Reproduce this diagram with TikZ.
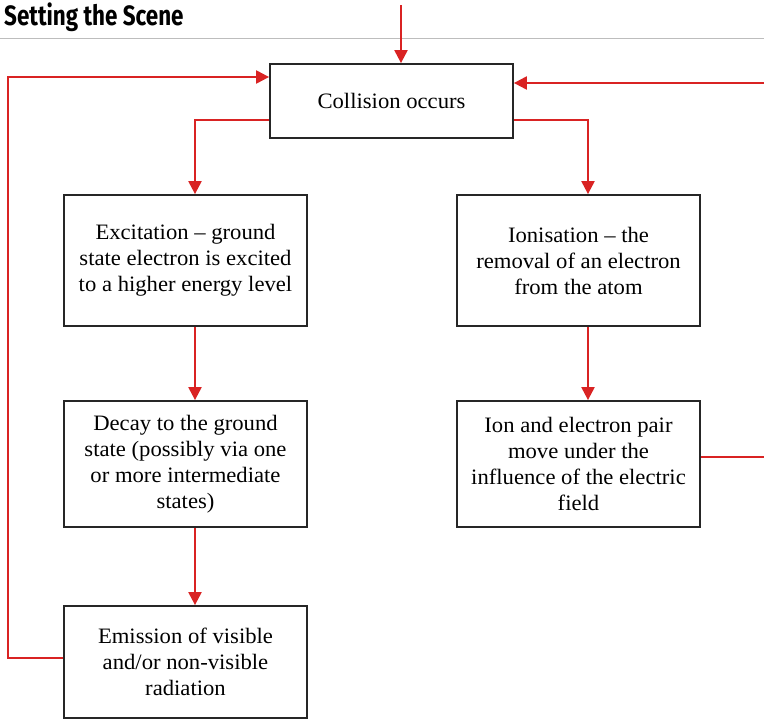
\documentclass[tikz,border=0pt]{standalone}
\usepackage{fontspec}
\setmainfont{Liberation Serif}[FakeStretch=1.03]
\newfontfamily\headfont[FakeStretch=0.80]{Fira Sans Bold}
\usetikzlibrary{arrows.meta}
\definecolor{flowred}{HTML}{D92323}
\definecolor{rulegray}{HTML}{BDBDBD}
\tikzset{
  stage/.style={draw=black!85, line width=1.8pt, minimum width=243pt, align=center,
    font=\fontsize{22}{26}\selectfont, inner sep=0pt},
  flow/.style={draw=flowred, line width=2.2pt,
    -{Triangle[length=13pt,width=13pt]}},
  flowline/.style={draw=flowred, line width=2.2pt},
}
\begin{document}
\begin{tikzpicture}[x=1pt,y=-1pt]
\useasboundingbox (0,0) rectangle (764,720);
% heading and rule
\node[anchor=base west, inner sep=0pt, font=\headfont\fontsize{28}{30}\selectfont] (head) at (4,26) {Setting the Scene};
\draw[rulegray, line width=1pt] (0,38) -- (764,38);
% stages
\node[stage, minimum height=74pt] (coll) at (391.5,101) {Collision occurs};
\node[stage, minimum height=131pt] (exc) at (185.5,260.5) {Excitation -- ground\\state electron is excited\\to a higher energy level};
\node[stage, minimum height=131pt] (ion) at (578.5,260.5) {Ionisation -- the\\removal of an electron\\from the atom};
\node[stage, minimum height=126pt] (dec) at (185.5,464) {Decay to the ground\\state (possibly via one\\or more intermediate\\states)};
\node[stage, minimum height=126pt] (pair) at (578.5,464) {Ion and electron pair\\move under the\\influence of the electric\\field};
\node[stage, minimum height=112pt] (emi) at (185.5,662) {Emission of visible\\and/or non-visible\\radiation};
% free ends at the picture edges
\coordinate (top) at (401,5);
\coordinate (inR) at (764,83);
\coordinate (outR) at (764,457);
\coordinate (leftX) at (8,0);
% connectors
\draw[flow] (top) -- (top |- coll.north);
\draw[flow] (coll.west |- 0,120) -| ([xshift=9.5pt]exc.north);
\draw[flow] (coll.east |- 0,120) -| ([xshift=9.5pt]ion.north);
\draw[flow] (inR) -- (coll.east |- inR);
\draw[flow] ([xshift=9.5pt]exc.south) -- ([xshift=9.5pt]dec.north);
\draw[flow] ([xshift=9.5pt]ion.south) -- ([xshift=9.5pt]pair.north);
\draw[flow] ([xshift=9.5pt]dec.south) -- ([xshift=9.5pt]emi.north);
\draw[flowline] (pair.east |- outR) -- (outR);
\draw[flow] (emi.west |- 0,658) -- (leftX |- 0,658) -- (leftX |- 0,77) -- (coll.west |- 0,77);
\end{tikzpicture}
\end{document}
